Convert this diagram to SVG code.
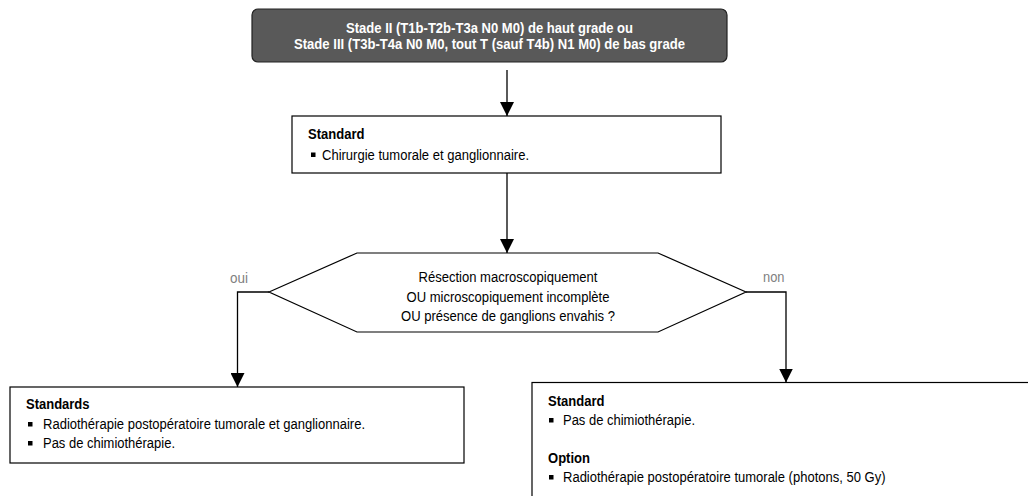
<svg xmlns="http://www.w3.org/2000/svg" width="1028" height="496" viewBox="0 0 1028 496">
<style>
text{font-family:"Liberation Sans",Arial,sans-serif;font-size:14px;fill:#000}
.b{font-weight:bold}
.w{fill:#fff;font-weight:bold}
.c{text-anchor:middle}
.g{fill:#808080}
.box{fill:#fff;stroke:#000;stroke-width:1.2}
.con{fill:none;stroke:#000;stroke-width:1.3}
</style>
<defs>
<marker id="arr" markerUnits="userSpaceOnUse" markerWidth="14" markerHeight="14" refX="14" refY="7" orient="auto">
<path d="M0,0 L14,7 L0,14 z" fill="#000"/>
</marker>
<rect id="bul" width="4.5" height="4.5" fill="#000"/>
</defs>
<g id="connectors">
<line class="con" x1="507" y1="70" x2="507" y2="116" marker-end="url(#arr)"/>
<line class="con" x1="507" y1="173" x2="507" y2="253" marker-end="url(#arr)"/>
<polyline class="con" points="269,292 237.5,292 237.5,387" marker-end="url(#arr)"/>
<polyline class="con" points="746,292 786,292 786,382.5" marker-end="url(#arr)"/>
<text class="g" x="230" y="283" textLength="18" lengthAdjust="spacingAndGlyphs">oui</text>
<text class="g" x="763" y="282" textLength="21.5" lengthAdjust="spacingAndGlyphs">non</text>
</g>
<g id="n1">
<rect x="252" y="9" width="475" height="53" rx="6" fill="#595959" stroke="#222" stroke-width="1.2"/>
<text class="w c" x="489.5" y="33" textLength="287" lengthAdjust="spacingAndGlyphs">Stade II (T1b-T2b-T3a N0 M0) de haut grade ou</text>
<text class="w c" x="489.5" y="49" textLength="391" lengthAdjust="spacingAndGlyphs">Stade III (T3b-T4a N0 M0, tout T (sauf T4b) N1 M0) de bas grade</text>
</g>
<g id="n2">
<rect class="box" x="292" y="116" width="429" height="57"/>
<text class="b" x="308" y="138.5" textLength="56.5" lengthAdjust="spacingAndGlyphs">Standard</text>
<use href="#bul" x="311" y="152.5"/>
<text x="322" y="159.5" textLength="207" lengthAdjust="spacingAndGlyphs">Chirurgie tumorale et ganglionnaire.</text>
</g>
<g id="n3">
<polygon class="box" points="269,292 357,253 658,253 746,292 658,332 357,332"/>
<text class="c" x="508" y="282" textLength="179" lengthAdjust="spacingAndGlyphs">Résection macroscopiquement</text>
<text class="c" x="508" y="302" textLength="203" lengthAdjust="spacingAndGlyphs">OU microscopiquement incomplète</text>
<text class="c" x="508" y="321" textLength="214" lengthAdjust="spacingAndGlyphs">OU présence de ganglions envahis ?</text>
</g>
<g id="n4">
<rect class="box" x="10" y="387" width="454" height="76"/>
<text class="b" x="26" y="409" textLength="63.5" lengthAdjust="spacingAndGlyphs">Standards</text>
<use href="#bul" x="28" y="422"/>
<text x="43" y="428.5" textLength="322" lengthAdjust="spacingAndGlyphs">Radiothérapie postopératoire tumorale et ganglionnaire.</text>
<use href="#bul" x="28" y="441"/>
<text x="43" y="447.5" textLength="132" lengthAdjust="spacingAndGlyphs">Pas de chimiothérapie.</text>
</g>
<g id="n5">
<rect class="box" x="532" y="382.5" width="510" height="130"/>
<text class="b" x="548" y="406" textLength="56.5" lengthAdjust="spacingAndGlyphs">Standard</text>
<use href="#bul" x="549" y="418"/>
<text x="563" y="424.5" textLength="132" lengthAdjust="spacingAndGlyphs">Pas de chimiothérapie.</text>
<text class="b" x="548" y="463" textLength="42" lengthAdjust="spacingAndGlyphs">Option</text>
<use href="#bul" x="549" y="475"/>
<text x="563" y="481.5" textLength="322.5" lengthAdjust="spacingAndGlyphs">Radiothérapie postopératoire tumorale (photons, 50 Gy)</text>
</g>
</svg>
